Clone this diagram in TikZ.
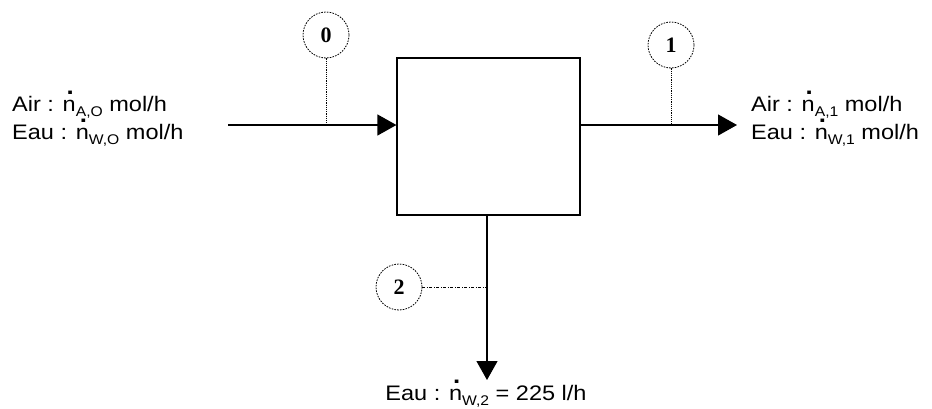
\documentclass[tikz,border=0pt]{standalone}
\usepackage{fontspec}
\setmainfont[FakeStretch=1.12]{Liberation Sans}
\newfontfamily\circfont{Liberation Serif}
\usetikzlibrary{arrows.meta}
\newcommand\ndt{\makebox[0pt][l]{\hspace{4pt}\raisebox{17pt}{\fontsize{23}{23}\selectfont\textbf{.}}}n}
\newcommand\sbs[1]{\raisebox{-5pt}{\fontsize{14}{14}\selectfont #1}}
\begin{document}
\begin{tikzpicture}[x=1pt,y=-1pt,
  flow/.style={line width=1.2pt,-{Triangle[length=19pt,width=21pt]}},
  circ/.style={circle,draw,line width=0.8pt,dash pattern=on 1.6pt off 1.2pt,minimum size=46pt,inner sep=0pt,font=\circfont\fontsize{22}{22}\selectfont\bfseries},
  lbl/.style={font=\fontsize{21}{21}\selectfont,inner sep=0pt},
  tie/.style={line width=0.9pt,dash pattern=on 1.1pt off 1.1pt}]
\useasboundingbox (0,0) rectangle (932,408);
\node[draw,line width=1.2pt,minimum width=183pt,minimum height=157pt,inner sep=0pt] (box) at (488.5,136.5) {};
\coordinate (in) at (228,125);
\coordinate (out) at (737,125);
\coordinate (bot) at (487,380);
\draw[flow] (in) -- (box.west |- in);
\draw[flow] (box.east |- out) -- (out);
\draw[flow] (box.south -| bot) -- (bot);
\node[circ] (c0) at (326,35) {0};
\node[circ] (c1) at (671,45) {1};
\node[circ] (c2) at (399,287) {2};
\coordinate (t0) at (326,125);
\coordinate (t1) at (671,125);
\coordinate (t2) at (487,287);
\draw[tie] (c0) -- (t0);
\draw[tie] (c1) -- (t1);
\draw[line width=0.9pt,dash pattern=on 3pt off 1.5pt on 1pt off 1.5pt] (c2) -- (t2);
\node[lbl,anchor=base west] (lin1) at (12,111) {Air : \ndt\sbs{A,O} mol/h};
\node[lbl,anchor=base west] (lin2) at (12,139) {Eau : \ndt\sbs{W,O} mol/h};
\node[lbl,anchor=base west] (lout1) at (751,111) {Air : \ndt\sbs{A,1} mol/h};
\node[lbl,anchor=base west] (lout2) at (751,139) {Eau : \ndt\sbs{W,1} mol/h};
\node[lbl,anchor=base] (lbot) at (486,400) {Eau : \ndt\sbs{W,2} = 225 l/h};
\end{tikzpicture}
\end{document}
